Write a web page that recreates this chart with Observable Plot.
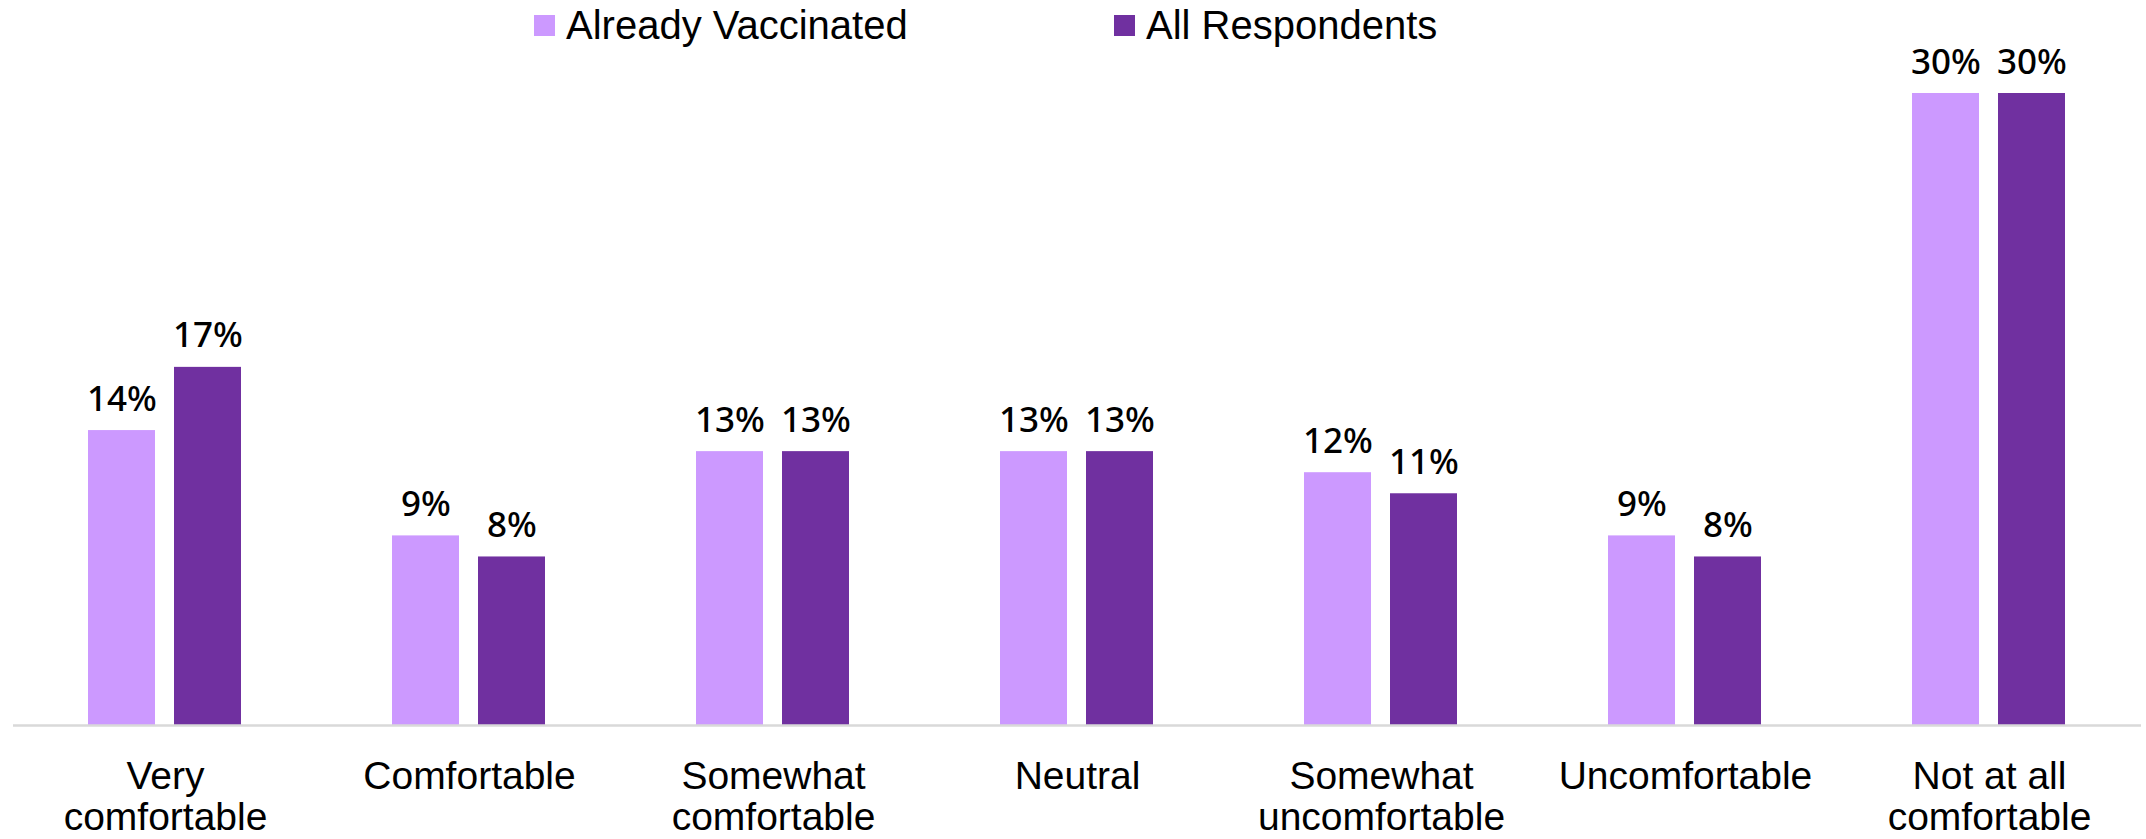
<!DOCTYPE html>
<html>
<head>
<meta charset="utf-8">
<script src="https://cdn.jsdelivr.net/npm/d3@7"></script>
<script src="https://cdn.jsdelivr.net/npm/@observablehq/plot@0.6"></script>
<style>
  html, body { margin: 0; padding: 0; background: #fff; }
  #wrap { position: relative; width: 2146px; height: 839px; overflow: hidden; }
  #legend { position: absolute; left: 0; top: 0; width: 2146px; height: 50px; z-index: 2; font-family: "Liberation Sans", Arial, sans-serif; font-size: 40px; color: #000; }
  .item { position: absolute; top: 0; height: 50px; display: flex; align-items: center; }
  .sw { width: 21px; height: 21px; margin-right: 11px; }
  #chart svg { display: block; }
</style>
</head>
<body>
<div id="wrap">
  <div id="chart"></div>
  <div id="legend"></div>
</div>
<script>
const categories = ["Very\ncomfortable", "Comfortable", "Somewhat\ncomfortable", "Neutral", "Somewhat\nuncomfortable", "Uncomfortable", "Not at all\ncomfortable"];
const seriesNames = ["Already Vaccinated", "All Respondents"];
const alreadyVaccinated = [14, 9, 13, 13, 12, 9, 30];
const allRespondents = [17, 8, 13, 13, 11, 8, 30];
const colors = ["#CC99FF", "#7030A0"];

const data = [];
categories.forEach((c, i) => {
  data.push({category: c, series: seriesNames[0], value: alreadyVaccinated[i]});
  data.push({category: c, series: seriesNames[1], value: allRespondents[i]});
});

// Legend
const legend = document.getElementById("legend");
const legendLeft = [534, 1114];
seriesNames.forEach((s, i) => {
  const it = document.createElement("div");
  it.className = "item";
  it.style.left = legendLeft[i] + "px";
  const sw = document.createElement("div");
  sw.className = "sw";
  sw.style.background = colors[i];
  const tx = document.createElement("span");
  tx.textContent = s;
  it.appendChild(sw);
  it.appendChild(tx);
  legend.appendChild(it);
});

const chart = Plot.plot({
  width: 2146,
  height: 839,
  marginLeft: 11,
  marginRight: 4,
  marginTop: 93,
  marginBottom: 114,
  fx: {domain: categories, padding: 0},
  x: {domain: seriesNames, paddingInner: 0.218, paddingOuter: 0.86, axis: null},
  y: {domain: [0, 30], axis: null},
  color: {domain: seriesNames, range: colors},
  marks: [
    Plot.barY(data, {fx: "category", x: "series", y: "value", fill: "series"}),
    Plot.text(data, {
      fx: "category", x: "series", y: "value",
      text: d => d.value + "%",
      lineAnchor: "bottom", dy: -20,
      fontSize: 35, fontWeight: 500,
      fontFamily: "'Noto Sans', 'Open Sans', sans-serif",
      fill: "#000"
    }),
    Plot.ruleY([0], {stroke: "#d9d9d9", strokeWidth: 2.5}),
    Plot.axisFx({
      anchor: "bottom", tickSize: 0, tickPadding: 34, label: null,
      fontSize: 39, lineHeight: 1.05, lineAnchor: "top",
      fontFamily: "'Liberation Sans', Arial, sans-serif",
      fill: "#000"
    })
  ]
});
document.getElementById("chart").appendChild(chart);
</script>
</body>
</html>
